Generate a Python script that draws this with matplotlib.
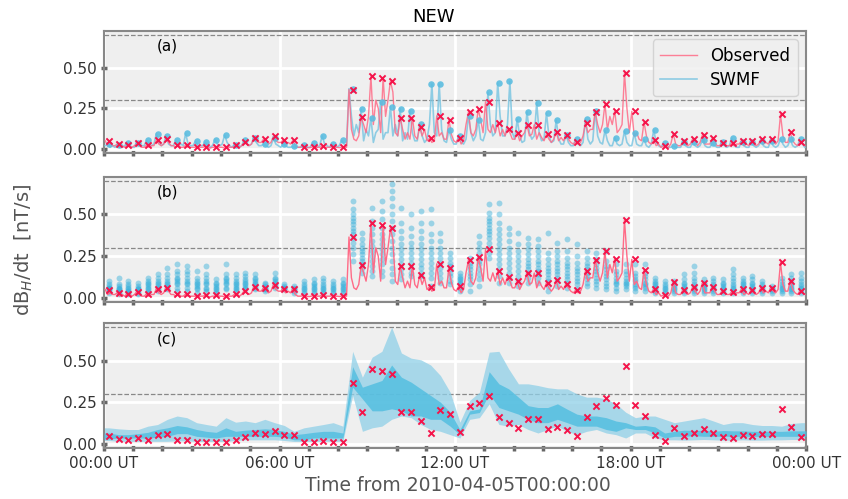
import numpy as np
import matplotlib
matplotlib.use('Agg')
import matplotlib.pyplot as plt

# 20-minute windows over the day (72 windows)
obs_max = [0.049, 0.031, 0.024, 0.037, 0.024, 0.055, 0.061, 0.024, 0.022, 0.010,
           0.014, 0.014, 0.010, 0.024, 0.043, 0.067, 0.061, 0.078, 0.055, 0.053,
           0.012, 0.012, 0.016, 0.012, 0.010, 0.365, 0.194, 0.447, 0.439, 0.418,
           0.192, 0.192, 0.137, 0.065, 0.204, 0.178, 0.069, 0.227, 0.243, 0.290,
           0.159, 0.124, 0.098, 0.149, 0.149, 0.090, 0.104, 0.084, 0.045, 0.161,
           0.229, 0.278, 0.235, 0.469, 0.231, 0.165, 0.053, 0.016, 0.094, 0.047,
           0.063, 0.088, 0.065, 0.039, 0.035, 0.051, 0.047, 0.059, 0.059, 0.212,
           0.102, 0.041]

swmf_max = [0.028, 0.022, 0.038, 0.038, 0.052, 0.094, 0.082, 0.053, 0.095, 0.047,
            0.042, 0.057, 0.086, 0.027, 0.052, 0.066, 0.030, 0.066, 0.030, 0.015,
            0.024, 0.035, 0.080, 0.030, 0.052, 0.370, 0.244, 0.192, 0.288, 0.260,
            0.247, 0.235, 0.152, 0.400, 0.400, 0.118, 0.082, 0.205, 0.180, 0.347,
            0.405, 0.415, 0.182, 0.228, 0.285, 0.220, 0.178, 0.087, 0.063, 0.183,
            0.235, 0.114, 0.070, 0.110, 0.096, 0.058, 0.116, 0.035, 0.020, 0.040,
            0.040, 0.056, 0.035, 0.045, 0.066, 0.045, 0.045, 0.050, 0.050, 0.064,
            0.058, 0.062]

# 5-minute samples of the observed and SWMF dB/dt (in 0.01 nT/s)
obs_line = [5, 2, 3, 2,   2, 3.1, 1, 2,   1, 2.4, 2, 1,   2, 3.7, 2, 1,
            1, 2.4, 1, 2,   2, 5.5, 3, 2,   3, 6.1, 4, 2,   2, 1, 2.4, 1,
            1, 2.2, 1, 1,   1, 1, 0.5, 1,   1, 1.4, 1, 0.5,   1, 1, 1.4, 1,
            1, 0.5, 1, 1,   1, 2, 2.4, 1,   2, 4.3, 3, 2,   3, 6.7, 5, 4,
            4, 6.1, 5, 3,   4, 7.8, 5, 4,   4, 5.5, 3, 4,   3, 5.3, 2, 1,
            1, 1.2, 1, 0.8,   0.8, 1.2, 1, 1,   1, 1.6, 1, 1,   1, 1.2, 0.8, 1,
            0.8, 1, 1, 1,   36.5, 12, 6, 5,   8, 19.4, 15, 10,   20, 44.7, 15, 30,
            25, 10, 43.9, 20,   30, 41.8, 35, 10,   8, 19.2, 12, 6,   10, 6, 19.2, 8,
            6, 13.7, 8, 12,   5, 6.5, 4, 5,   20.4, 8, 10, 6,   6, 17.8, 9, 5,
            4, 6.9, 3, 5,   15, 22.7, 10, 8,   12, 24.3, 18, 10,   29, 12, 10, 15,
            10, 15.9, 8, 12,   8, 12.4, 10, 6,   6, 9.8, 5, 8,   10, 14.9, 8, 9,
            14.9, 6, 10, 7,   5, 9, 6, 4,   6, 10.4, 5, 7,   5, 8.4, 6, 4,
            3, 4.5, 3, 4,   8, 16.1, 10, 12,   12, 22.9, 15, 10,   15, 27.8, 12, 20,
            15, 23.5, 10, 12,   15, 46.9, 25, 10,   23.1, 8, 10, 6,   5, 16.5, 8, 4,
            3, 5.3, 2, 3,   1, 1.6, 1, 1,   3, 9.4, 3, 2,   2, 4.7, 3, 2,
            3, 6.3, 4, 2,   4, 8.8, 3, 3,   3, 6.5, 4, 2,   2, 3.9, 3, 2,
            2, 3.5, 2, 3,   3, 5.1, 2, 3,   2, 4.7, 3, 2,   3, 5.9, 3, 4,
            3, 5.9, 4, 3,   5, 21.2, 8, 4,   4, 10.2, 5, 3,   2, 4.1, 3, 2]

swmf_line = [2, 2.8, 1, 2,   1, 2.2, 1, 1,   2, 3.8, 2, 1,   1, 3.8, 2, 2,
             2, 5.2, 3, 2,   3, 9.4, 4, 2,   3, 8.2, 3, 2,   2, 5.3, 2, 3,
             2, 9.5, 3, 2,   2, 4.7, 2, 2,   2, 4.2, 2, 1,   2, 5.7, 3, 2,
             3, 8.6, 4, 2,   1, 2.7, 2, 1,   2, 5.2, 3, 2,   3, 6.6, 4, 2,
             2, 3, 2, 1,   2, 6.6, 3, 2,   1, 3, 2, 1,   1, 1.5, 1, 1,
             1, 2.4, 1, 1,   1, 3.5, 2, 1,   2, 8, 3, 2,   1, 3, 2, 1,
             2, 5.2, 3, 2,   37, 20, 8, 15,   10, 24.4, 5, 12,   8, 19.2, 4, 10,
             12, 28.8, 6, 10,   10, 26, 8, 15,   8, 24.7, 5, 10,   6, 23.5, 10, 5,
             5, 15.2, 8, 4,   6, 15, 40, 10,   8, 40, 12, 5,   4, 11.8, 6, 3,
             3, 8.2, 4, 3,   6, 20.5, 10, 5,   8, 18, 6, 5,   10, 34.7, 15, 8,
             10, 40.5, 20, 8,   8, 15, 41.5, 10,   6, 18.2, 8, 4,   5, 22.8, 10, 6,
             8, 28.5, 10, 5,   6, 22, 8, 4,   5, 17.8, 6, 3,   3, 8.7, 4, 2,
             2, 6.3, 3, 2,   4, 18.3, 6, 3,   5, 23.5, 8, 4,   3, 11.4, 5, 2,
             2, 7, 3, 2,   3, 11, 4, 2,   2, 9.6, 3, 2,   2, 5.8, 2, 1,
             3, 11.6, 4, 2,   1, 3.5, 1, 1,   1, 2, 1, 1,   1, 4, 2, 1,
             1, 4, 2, 1,   2, 5.6, 2, 1,   1, 3.5, 2, 1,   1, 4.5, 2, 1,
             2, 6.6, 2, 1,   1, 4.5, 2, 1,   1, 4.5, 2, 1,   2, 5, 2, 1,
             1, 5, 2, 1,   2, 6.4, 3, 1,   2, 5.8, 2, 1,   2, 6.2, 3, 1]

# ensemble window maxima (0.01 nT/s), one list per window
ens_max = [
    [3, 4, 5, 5, 6, 6, 7, 8, 10], [2, 3, 4, 5, 5, 6, 7, 8, 12], [2, 3, 4, 4, 5, 6, 7, 8, 10],
    [2, 3, 4, 5, 5, 6, 7, 9], [3, 4, 5, 6, 7, 8, 9, 10, 12], [4, 5, 6, 7, 8, 9, 10, 12, 14],
    [5, 6, 7, 8, 9, 10, 12, 14, 18], [4, 6, 8, 9, 10, 11, 12, 14, 16, 20], [4, 6, 8, 9, 10, 12, 14, 16, 19],
    [3, 5, 6, 7, 8, 9, 10, 12, 16], [4, 5, 6, 8, 9, 10, 12, 14, 19], [3, 4, 5, 6, 7, 8, 9, 11],
    [5, 6, 8, 9, 10, 11, 12, 14, 20], [4, 5, 6, 7, 8, 9, 10, 12, 14], [5, 6, 7, 8, 9, 10, 11, 13, 15],
    [5, 6, 7, 8, 9, 10, 11, 12, 14], [4, 5, 5, 6, 7, 8, 9], [6, 7, 8, 9, 10, 11, 12, 15],
    [5, 5, 6, 6, 7, 8], [3, 4, 5, 5, 6, 7], [3, 4, 5, 6, 7, 8, 10],
    [3, 4, 5, 6, 7, 8, 9, 11], [3, 4, 5, 6, 7, 8, 10, 12], [3, 4, 5, 6, 7, 8, 10],
    [3, 4, 5, 6, 7, 8, 9, 11],
    [22, 26, 30, 33, 36, 38, 40, 42, 44, 46, 48, 50, 53, 58],
    [15, 18, 20, 22, 24, 26, 28, 30, 32, 35, 39],
    [13, 16, 19, 22, 25, 28, 31, 34, 38, 42, 46, 54],
    [13, 16, 20, 23, 26, 29, 32, 35, 38, 42, 47, 52, 58],
    [10, 14, 18, 22, 26, 30, 34, 38, 42, 46, 50, 55, 60, 64, 68],
    [11, 14, 17, 20, 23, 26, 29, 32, 36, 40, 45, 54],
    [13, 15, 18, 21, 24, 27, 30, 33, 37, 42, 50],
    [13, 15, 18, 20, 23, 26, 29, 32, 36, 40, 45, 52],
    [7, 12, 15, 18, 21, 24, 27, 30, 34, 38, 45, 53],
    [9, 12, 15, 18, 21, 24, 27, 30, 34, 39],
    [8, 10, 13, 15, 17, 19, 21, 24, 27],
    [4, 6, 8, 9, 10, 11, 12, 13, 15],
    [4, 8, 11, 13, 15, 17, 19, 21, 24],
    [7, 11, 14, 17, 20, 22, 24, 27, 30, 33, 37],
    [24, 27, 30, 33, 36, 38, 40, 42, 44, 46, 48, 51, 56],
    [9, 13, 17, 20, 23, 26, 29, 32, 35, 38, 41, 45, 50, 57],
    [9, 12, 15, 18, 21, 24, 27, 30, 34, 38, 42],
    [7, 10, 13, 16, 19, 22, 25, 28, 32, 39],
    [9, 12, 15, 17, 19, 21, 23, 26, 29, 32, 36],
    [9, 12, 14, 16, 18, 20, 22, 25, 28, 31, 35],
    [4, 7, 10, 12, 14, 16, 18, 20, 23, 27, 39],
    [7, 10, 12, 14, 16, 18, 20, 22, 25, 28, 33],
    [6, 9, 11, 13, 15, 17, 19, 21, 24, 28, 35],
    [5, 8, 10, 12, 14, 16, 18, 21, 25, 32],
    [7, 9, 11, 13, 15, 17, 19, 21, 24, 28],
    [6, 8, 10, 12, 14, 16, 18, 20, 23, 27],
    [5, 7, 9, 11, 13, 15, 17, 19, 22, 28],
    [4, 6, 8, 9, 10, 12, 14, 16, 20], [5, 7, 8, 9, 10, 12, 14, 16, 20],
    [4, 6, 7, 8, 10, 11, 13, 15, 20], [4, 6, 7, 8, 9, 11, 13, 15, 20],
    [3, 4, 5, 6, 7, 8, 9, 10, 12], [3, 4, 5, 6, 7, 8, 10], [3, 4, 5, 6, 7, 8, 10],
    [3, 4, 5, 6, 7, 8, 9, 11, 14], [3, 4, 5, 6, 7, 8, 10, 12, 15, 19], [3, 4, 5, 6, 7, 8, 9, 11],
    [3, 4, 5, 6, 7, 8, 10, 12], [3, 4, 5, 6, 7, 8, 9, 11], [3, 4, 5, 6, 7, 8, 10, 12, 14, 17],
    [3, 4, 5, 6, 7, 8, 9, 10, 12], [3, 4, 5, 6, 7, 8, 9, 11, 13], [3, 4, 5, 6, 7, 8, 10],
    [3, 4, 5, 5, 6, 7], [3, 4, 5, 6, 7, 8, 10, 12], [3, 4, 5, 6, 7, 8, 10, 12, 14],
    [3, 4, 5, 6, 7, 8, 10, 12, 15],
]

# ensemble spread per window (panel c)
outer_hi = [0.096, 0.090, 0.086, 0.086, 0.106, 0.116, 0.147, 0.167, 0.157, 0.127,
            0.116, 0.106, 0.157, 0.130, 0.137, 0.127, 0.147, 0.127, 0.110, 0.075,
            0.096, 0.106, 0.116, 0.127, 0.106, 0.555, 0.400, 0.520, 0.555, 0.700,
            0.545, 0.514, 0.504, 0.473, 0.410, 0.310, 0.130, 0.260, 0.310, 0.550,
            0.555, 0.450, 0.360, 0.360, 0.350, 0.337, 0.330, 0.330, 0.300, 0.280,
            0.280, 0.270, 0.240, 0.190, 0.157, 0.167, 0.167, 0.147, 0.127, 0.137,
            0.147, 0.157, 0.137, 0.116, 0.127, 0.127, 0.116, 0.110, 0.110, 0.106,
            0.122, 0.127]
outer_lo = [0.020, 0.015, 0.014, 0.014, 0.015, 0.015, 0.015, 0.018, 0.018, 0.014,
            0.014, 0.014, 0.014, 0.020, 0.024, 0.024, 0.024, 0.024, 0.020, 0.014,
            0.014, 0.014, 0.015, 0.015, 0.015, 0.290, 0.075, 0.096, 0.106, 0.147,
            0.167, 0.157, 0.116, 0.086, 0.075, 0.055, 0.035, 0.147, 0.157, 0.240,
            0.116, 0.106, 0.116, 0.086, 0.065, 0.086, 0.106, 0.075, 0.055, 0.075,
            0.086, 0.065, 0.055, 0.035, 0.065, 0.065, 0.035, 0.024, 0.024, 0.022,
            0.024, 0.026, 0.024, 0.022, 0.022, 0.024, 0.022, 0.022, 0.024, 0.024,
            0.026, 0.026]
inner_hi = [0.065, 0.055, 0.055, 0.061, 0.069, 0.086, 0.096, 0.110, 0.102, 0.086,
            0.075, 0.069, 0.096, 0.075, 0.082, 0.086, 0.090, 0.086, 0.075, 0.055,
            0.061, 0.069, 0.075, 0.075, 0.065, 0.463, 0.340, 0.360, 0.380, 0.473,
            0.400, 0.370, 0.330, 0.290, 0.250, 0.190, 0.085, 0.198, 0.210, 0.433,
            0.360, 0.330, 0.280, 0.229, 0.218, 0.218, 0.240, 0.208, 0.178, 0.167,
            0.167, 0.157, 0.137, 0.127, 0.106, 0.110, 0.102, 0.065, 0.075, 0.082,
            0.080, 0.082, 0.075, 0.080, 0.078, 0.078, 0.075, 0.075, 0.075, 0.075,
            0.078, 0.078]
inner_lo = [0.029, 0.035, 0.035, 0.035, 0.035, 0.040, 0.045, 0.061, 0.061, 0.045,
            0.040, 0.035, 0.045, 0.045, 0.045, 0.045, 0.045, 0.045, 0.040, 0.024,
            0.024, 0.035, 0.035, 0.035, 0.035, 0.340, 0.270, 0.198, 0.198, 0.210,
            0.198, 0.167, 0.167, 0.147, 0.147, 0.106, 0.055, 0.178, 0.188, 0.300,
            0.218, 0.198, 0.178, 0.147, 0.127, 0.127, 0.147, 0.127, 0.106, 0.106,
            0.106, 0.086, 0.075, 0.096, 0.086, 0.086, 0.065, 0.035, 0.045, 0.045,
            0.049, 0.045, 0.045, 0.045, 0.045, 0.045, 0.045, 0.045, 0.045, 0.045,
            0.045, 0.045]

hour_ticks = [0, 6, 12, 18, 24]
hour_labels = ['00:00 UT', '06:00 UT', '12:00 UT', '18:00 UT', '00:00 UT']

# time axes in hours
t_win = (np.arange(len(obs_max)) * 20 + 10) / 60
t_line = (np.arange(len(obs_line)) * 5 + 2.5) / 60
obs_l = np.array(obs_line) / 100
swmf_l = np.array(swmf_line) / 100

red_line = '#ff6b87'
red_x = '#f5144a'
blue_line = '#7cc6e2'
blue_dot = '#34afdb'

fig = plt.figure(figsize=(8.48, 4.99), dpi=100)
left, width = 0.1226, 0.828
axa = fig.add_axes([left, 0.6934, width, 0.2445])
axb = fig.add_axes([left, 0.3948, width, 0.2505])
axc = fig.add_axes([left, 0.1022, width, 0.2505])

for ax, lab in zip([axa, axb, axc], ['(a)', '(b)', '(c)']):
    ax.set_facecolor('#efefef')
    ax.set_xlim(0, 24)
    ax.set_ylim(-0.025, 0.725)
    ax.set_yticks([0, 0.25, 0.5])
    ax.set_yticklabels(['0.00', '0.25', '0.50'])
    ax.set_xticks(hour_ticks)
    ax.set_xticks(np.arange(25), minor=True)
    ax.grid(True, which='major', color='white', lw=2, zorder=0)
    ax.set_axisbelow(True)
    for y in [0.3, 0.7]:
        ax.axhline(y, color='#888888', ls='--', lw=0.9, zorder=1)
    for s in ax.spines.values():
        s.set_color('#888888')
        s.set_linewidth(1.5)
    ax.tick_params(which='both', direction='inout', length=4, width=2.5,
                   color='#666666', labelsize=11, labelcolor='#333333')
    ax.text(0.075, 0.84, lab, transform=ax.transAxes, fontsize=11)
    if ax is not axc:
        ax.set_xticklabels([])
    else:
        ax.set_xticklabels(hour_labels)

# (a) observed vs SWMF
axa.plot(t_line, swmf_l, color=blue_line, lw=1.2, alpha=0.85, label='SWMF', zorder=3)
axa.plot(t_line, obs_l, color=red_line, lw=1.0, alpha=0.85, label='Observed', zorder=3)
axa.scatter(t_win, swmf_max, s=22, color='#5cbde0', alpha=0.9, zorder=4, lw=0)
axa.scatter(t_win, obs_max, s=20, marker='x', color=red_x, lw=1.4, zorder=5)
h, l = axa.get_legend_handles_labels()
leg = axa.legend(h[::-1], l[::-1], loc='upper right', fontsize=12, frameon=True,
                 facecolor='#efefef', edgecolor='#cccccc', handlelength=2.2,
                 borderpad=0.45, labelspacing=0.35)

# (b) ensemble window maxima
for tw, vals in zip(t_win, ens_max):
    v = np.array(vals) / 100
    axb.scatter(np.full(v.size, tw), v, s=18, color=blue_dot, alpha=0.45, lw=0, zorder=3)
axb.plot(t_line, obs_l, color=red_line, lw=1.0, zorder=4)
axb.scatter(t_win, obs_max, s=20, marker='x', color=red_x, lw=1.4, zorder=5)

# (c) ensemble spread
tb = np.r_[0, t_win, 24]
pad = lambda a: np.r_[a[0], a, a[-1]]
axc.fill_between(tb, pad(outer_lo), pad(outer_hi), color='#8fd0e8', alpha=0.75, lw=0, zorder=2)
axc.fill_between(tb, pad(inner_lo), pad(inner_hi), color='#4fbde0', alpha=0.8, lw=0, zorder=3)
axc.scatter(t_win, obs_max, s=20, marker='x', color=red_x, lw=1.4, zorder=5)

fig.text(0.511, 0.965, 'NEW', ha='center', va='center', fontsize=13)
fig.text(0.028, 0.5, 'dB$_H$/dt  [nT/s]', rotation=90, ha='center', va='center',
         fontsize=14, color='#555555')
fig.text(0.54, 0.028, 'Time from 2010-04-05T00:00:00', ha='center', va='center',
         fontsize=13.5, color='#555555')

fig.savefig('out.png', dpi=100)
